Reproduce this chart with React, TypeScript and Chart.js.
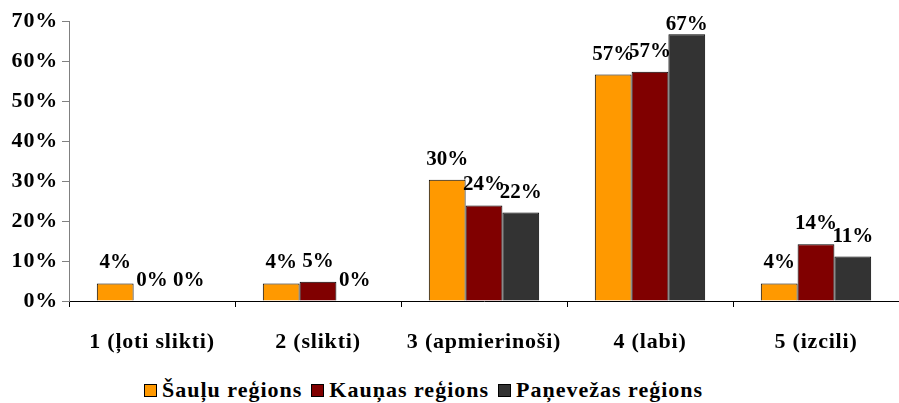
import React, { useEffect, useRef } from "react";
import { Chart, registerables } from "chart.js";
Chart.register(...registerables);

const categories = ["1 (ļoti slikti)", "2 (slikti)", "3 (apmierinoši)", "4 (labi)", "5 (izcili)"];
const seriesNames = ["Šauļu reģions", "Kauņas reģions", "Paņevežas reģions"];
const sauluValues = [4.4, 4.4, 30.3, 56.6, 4.4];
const kaunasValues = [0, 4.8, 23.9, 57.3, 14.2];
const panevezasValues = [0, 0, 22.1, 66.7, 11.1];
const seriesColors = ["#FF9900", "#800000", "#333333"];
const yTicks = [0, 10, 20, 30, 40, 50, 60, 70];

const FONT = '"Liberation Serif", "Times New Roman", serif';

const spacingPlugin = {
  id: "textSpacing",
  beforeDraw(chart: any) {
    (chart.ctx as any).letterSpacing = "0.8px";
  },
  afterDraw(chart: any) {
    (chart.ctx as any).letterSpacing = "0px";
  },
};

const labelPlugin = {
  id: "barLabels",
  afterDatasetsDraw(chart: any) {
    const ctx = chart.ctx;
    ctx.save();
    (ctx as any).letterSpacing = "0px";
    ctx.font = `bold 21px ${FONT}`;
    ctx.fillStyle = "#000";
    ctx.textAlign = "center";
    ctx.textBaseline = "alphabetic";
    chart.data.datasets.forEach((ds: any, di: number) => {
      const meta = chart.getDatasetMeta(di);
      meta.data.forEach((bar: any, i: number) => {
        const v = ds.data[i];
        const y = Math.max(bar.y - 15, 30);
        ctx.fillText(Math.round(v) + "%", bar.x, y);
      });
    });
    ctx.restore();
  },
};

export default function App() {
  const ref = useRef<HTMLCanvasElement>(null);
  useEffect(() => {
    const values = [sauluValues, kaunasValues, panevezasValues];
    const chart = new Chart(ref.current!, {
      type: "bar",
      data: {
        labels: categories,
        datasets: seriesNames.map((name, i) => ({
          label: name,
          data: values[i],
          backgroundColor: seriesColors[i],
          borderColor: "#000",
          borderWidth: 1,
          borderSkipped: "bottom",
          categoryPercentage: 0.665,
          barPercentage: 1,
        })),
      },
      options: {
        animation: false,
        responsive: false,
        devicePixelRatio: 1,
        layout: { padding: { top: 21, right: 0, left: 0, bottom: 0 } },
        plugins: { legend: { display: false }, tooltip: { enabled: false } },
        scales: {
          x: {
            grid: { display: true, drawOnChartArea: false, offset: true, tickLength: 6, color: "#000" },
            border: { color: "#000", width: 1 },
            ticks: { color: "#000", font: { family: FONT, size: 22, weight: "bold" }, padding: 22, maxRotation: 0 },
            afterFit: (s: any) => { s.height = 59; },
          },
          y: {
            min: 0,
            max: 70,
            afterBuildTicks: (s: any) => { s.ticks = yTicks.map((v) => ({ value: v })); },
            grid: { display: true, drawOnChartArea: false, tickLength: 7, color: "#808080" },
            border: { color: "#808080", width: 1 },
            ticks: { color: "#000", font: { family: FONT, size: 22, weight: "bold" }, padding: 4, callback: (v: any) => v + "%" },
            afterFit: (s: any) => { s.width = 69; },
          },
        },
      },
      plugins: [spacingPlugin, labelPlugin],
    });
    return () => chart.destroy();
  }, []);

  return (
    <div style={{ position: "fixed", left: 0, top: 0, width: 899, height: 403, background: "#fff" }}>
      <canvas ref={ref} width={899} height={360} style={{ display: "block" }} />
      <div
        style={{
          position: "absolute",
          left: 144,
          top: 377,
          display: "flex",
          alignItems: "center",
          fontFamily: FONT,
          fontWeight: "bold",
          fontSize: 22,
          letterSpacing: "1px",
          color: "#000",
          whiteSpace: "nowrap",
        }}
      >
        {seriesNames.map((n, i) => (
          <div key={n} style={{ display: "flex", alignItems: "center", marginRight: 9 }}>
            <span
              style={{
                display: "inline-block",
                width: 11,
                height: 11,
                background: seriesColors[i],
                border: "1px solid #000",
                marginRight: 5,
              }}
            />
            <span>{n}</span>
          </div>
        ))}
      </div>
    </div>
  );
}
